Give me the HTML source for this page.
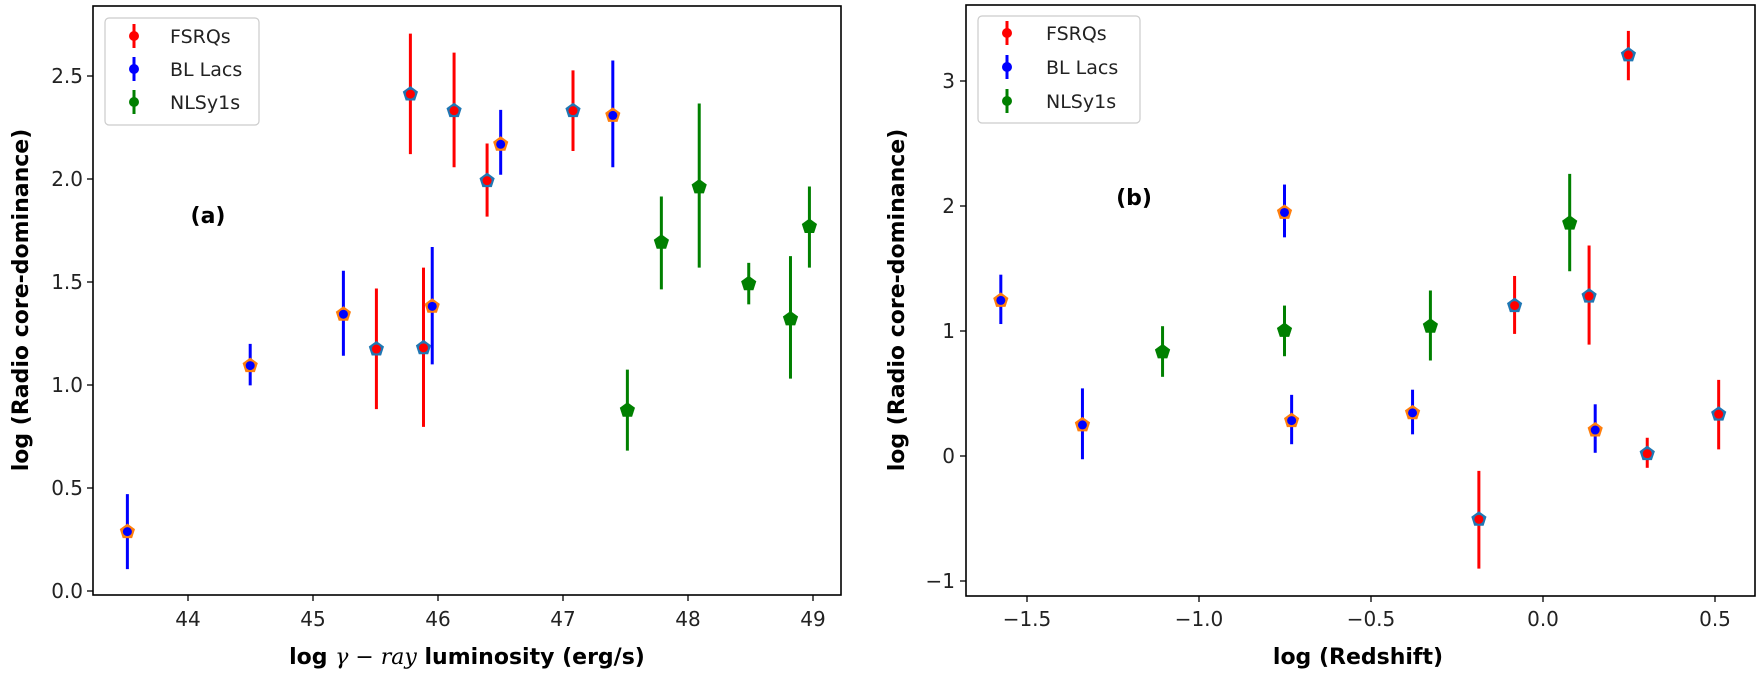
<!DOCTYPE html>
<html><head><meta charset="utf-8"><style>
html,body{margin:0;padding:0;background:#fff;}
svg{display:block;font-family:"DejaVu Sans","Liberation Sans",sans-serif;}
</style></head><body>
<svg id="s" width="1761" height="674" viewBox="0 0 1761 674" xmlns="http://www.w3.org/2000/svg">
<rect width="1761" height="674" fill="#fff"/>
<rect x="93" y="6" width="748" height="589" fill="none" stroke="#000" stroke-width="1.6"/>
<rect x="966" y="5" width="789" height="591" fill="none" stroke="#000" stroke-width="1.6"/>
<rect x="105" y="18" width="154" height="107" rx="4" fill="#fff" stroke="#ccc" stroke-width="1.2"/>
<rect x="978" y="16" width="162" height="107" rx="4" fill="#fff" stroke="#ccc" stroke-width="1.2"/>
<g font-size="19" fill="#222">
<text x="170" y="43">FSRQs</text><text x="170" y="76">BL Lacs</text><text x="170" y="109">NLSy1s</text>
<text x="1046" y="40">FSRQs</text><text x="1046" y="74">BL Lacs</text><text x="1046" y="108">NLSy1s</text>
</g>
<g id="g"></g>
<g font-size="22" font-weight="bold" fill="#000">
<text x="208" y="223" text-anchor="middle">(a)</text>
<text x="1134" y="205" text-anchor="middle">(b)</text>
</g>
<g font-size="22" font-weight="bold" fill="#000">
<text x="467" y="664" text-anchor="middle">log <tspan font-style="italic" font-weight="normal" font-family="'DejaVu Serif',serif">γ − ray</tspan> luminosity (erg/s)</text>
<text x="1358" y="664" text-anchor="middle">log (Redshift)</text>
<text transform="translate(28,300) rotate(-90)" text-anchor="middle">log (Radio core-dominance)</text>
<text transform="translate(904,300) rotate(-90)" text-anchor="middle">log (Radio core-dominance)</text>
</g>
</svg>
<script>
const NS="http://www.w3.org/2000/svg",G=document.getElementById('g');
function el(t,a){const e=document.createElementNS(NS,t);for(const k in a)e.setAttribute(k,a[k]);G.appendChild(e);return e;}
const C={r:'#ff0000',b:'#0000ff',n:'#008000'};
function pent(cx,cy,r,fill){let p=[];for(let i=0;i<5;i++){const a=-Math.PI/2+i*2*Math.PI/5;p.push((cx+r*Math.cos(a)).toFixed(1)+','+(cy+r*Math.sin(a)).toFixed(1));}el('polygon',{points:p.join(' '),fill:fill});}
function pt(x,y,t,b,c){
  el('line',{x1:x,y1:t,x2:x,y2:b,stroke:C[c],'stroke-width':3});
  if(c==='n'){pent(x,y,8,'#008000');}
  else{pent(x,y,8,c==='r'?'#1f77b4':'#ff7f0e');el('circle',{cx:x,cy:y,r:4.5,fill:C[c]});}
}
const L=[[77,1345,1250,1440,'b'],[330,925,870,975,'b'],[522,795,685,900,'b'],[590,883,730,1035,'r'],[660,238,85,390,'r'],[687,880,677,1080,'r'],[705,775,625,922,'b'],[750,280,133,423,'r'],[818,457,363,548,'r'],[846,365,278,442,'b'],[995,280,178,382,'r'],[1077,292,153,423,'b'],[1107,1038,935,1140,'n'],[1177,613,497,732,'n'],[1255,473,262,677,'n'],[1357,718,665,770,'n'],[1443,807,648,958,'n'],[1482,573,472,677,'n']];
L.forEach(d=>pt(90+d[0]/2.06,d[1]/2.53,d[2]/2.53,d[3]/2.53,d[4]));
const R=[[80,700,640,755,'b'],[240,990,905,1070,'b'],[397,820,760,878,'n'],[636,495,430,553,'b'],[636,770,712,830,'n'],[650,980,920,1035,'b'],[887,962,908,1012,'b'],[922,760,677,840,'n'],[1017,1210,1097,1325,'r'],[1087,712,643,778,'r'],[1195,520,405,632,'n'],[1233,690,572,803,'r'],[1245,1002,942,1055,'b'],[1310,128,72,187,'r'],[1347,1057,1020,1090,'r'],[1487,965,885,1047,'r']];
R.forEach(d=>pt(960+d[0]/1.96,d[1]/2.33,d[2]/2.33,d[3]/2.33,d[4]));
[[134,36,'r'],[134,69,'b'],[134,102,'n'],[1007,33,'r'],[1007,67,'b'],[1007,101,'n']].forEach(d=>{
 el('line',{x1:d[0],y1:d[1]-12,x2:d[0],y2:d[1]+12,stroke:C[d[2]],'stroke-width':3});
 el('circle',{cx:d[0],cy:d[1],r:5,fill:C[d[2]]});
});
function txt(x,y,s,anc){const e=el('text',{x:x,y:y,'font-size':20,fill:'#222','text-anchor':anc});e.textContent=s;}
for(let v=44;v<=49;v++){const x=188+(v-44)*125;el('line',{x1:x,y1:595,x2:x,y2:601,stroke:'#000','stroke-width':1.3});txt(x,626,String(v),'middle');}
[0,0.5,1,1.5,2,2.5].forEach(v=>{const y=591-v*206;el('line',{x1:87,y1:y,x2:93,y2:y,stroke:'#000','stroke-width':1.3});txt(83,y+7,v.toFixed(1),'end');});
[-1.5,-1,-0.5,0,0.5].forEach(v=>{const x=1543+v*344;el('line',{x1:x,y1:596,x2:x,y2:602,stroke:'#000','stroke-width':1.3});txt(x,626,(v<0?'−':'')+Math.abs(v).toFixed(1),'middle');});
[3,2,1,0,-1].forEach(v=>{const y=456-v*125;el('line',{x1:960,y1:y,x2:966,y2:y,stroke:'#000','stroke-width':1.3});txt(955,y+7,(v<0?'−':'')+Math.abs(v),'end');});
</script>
</body></html>
